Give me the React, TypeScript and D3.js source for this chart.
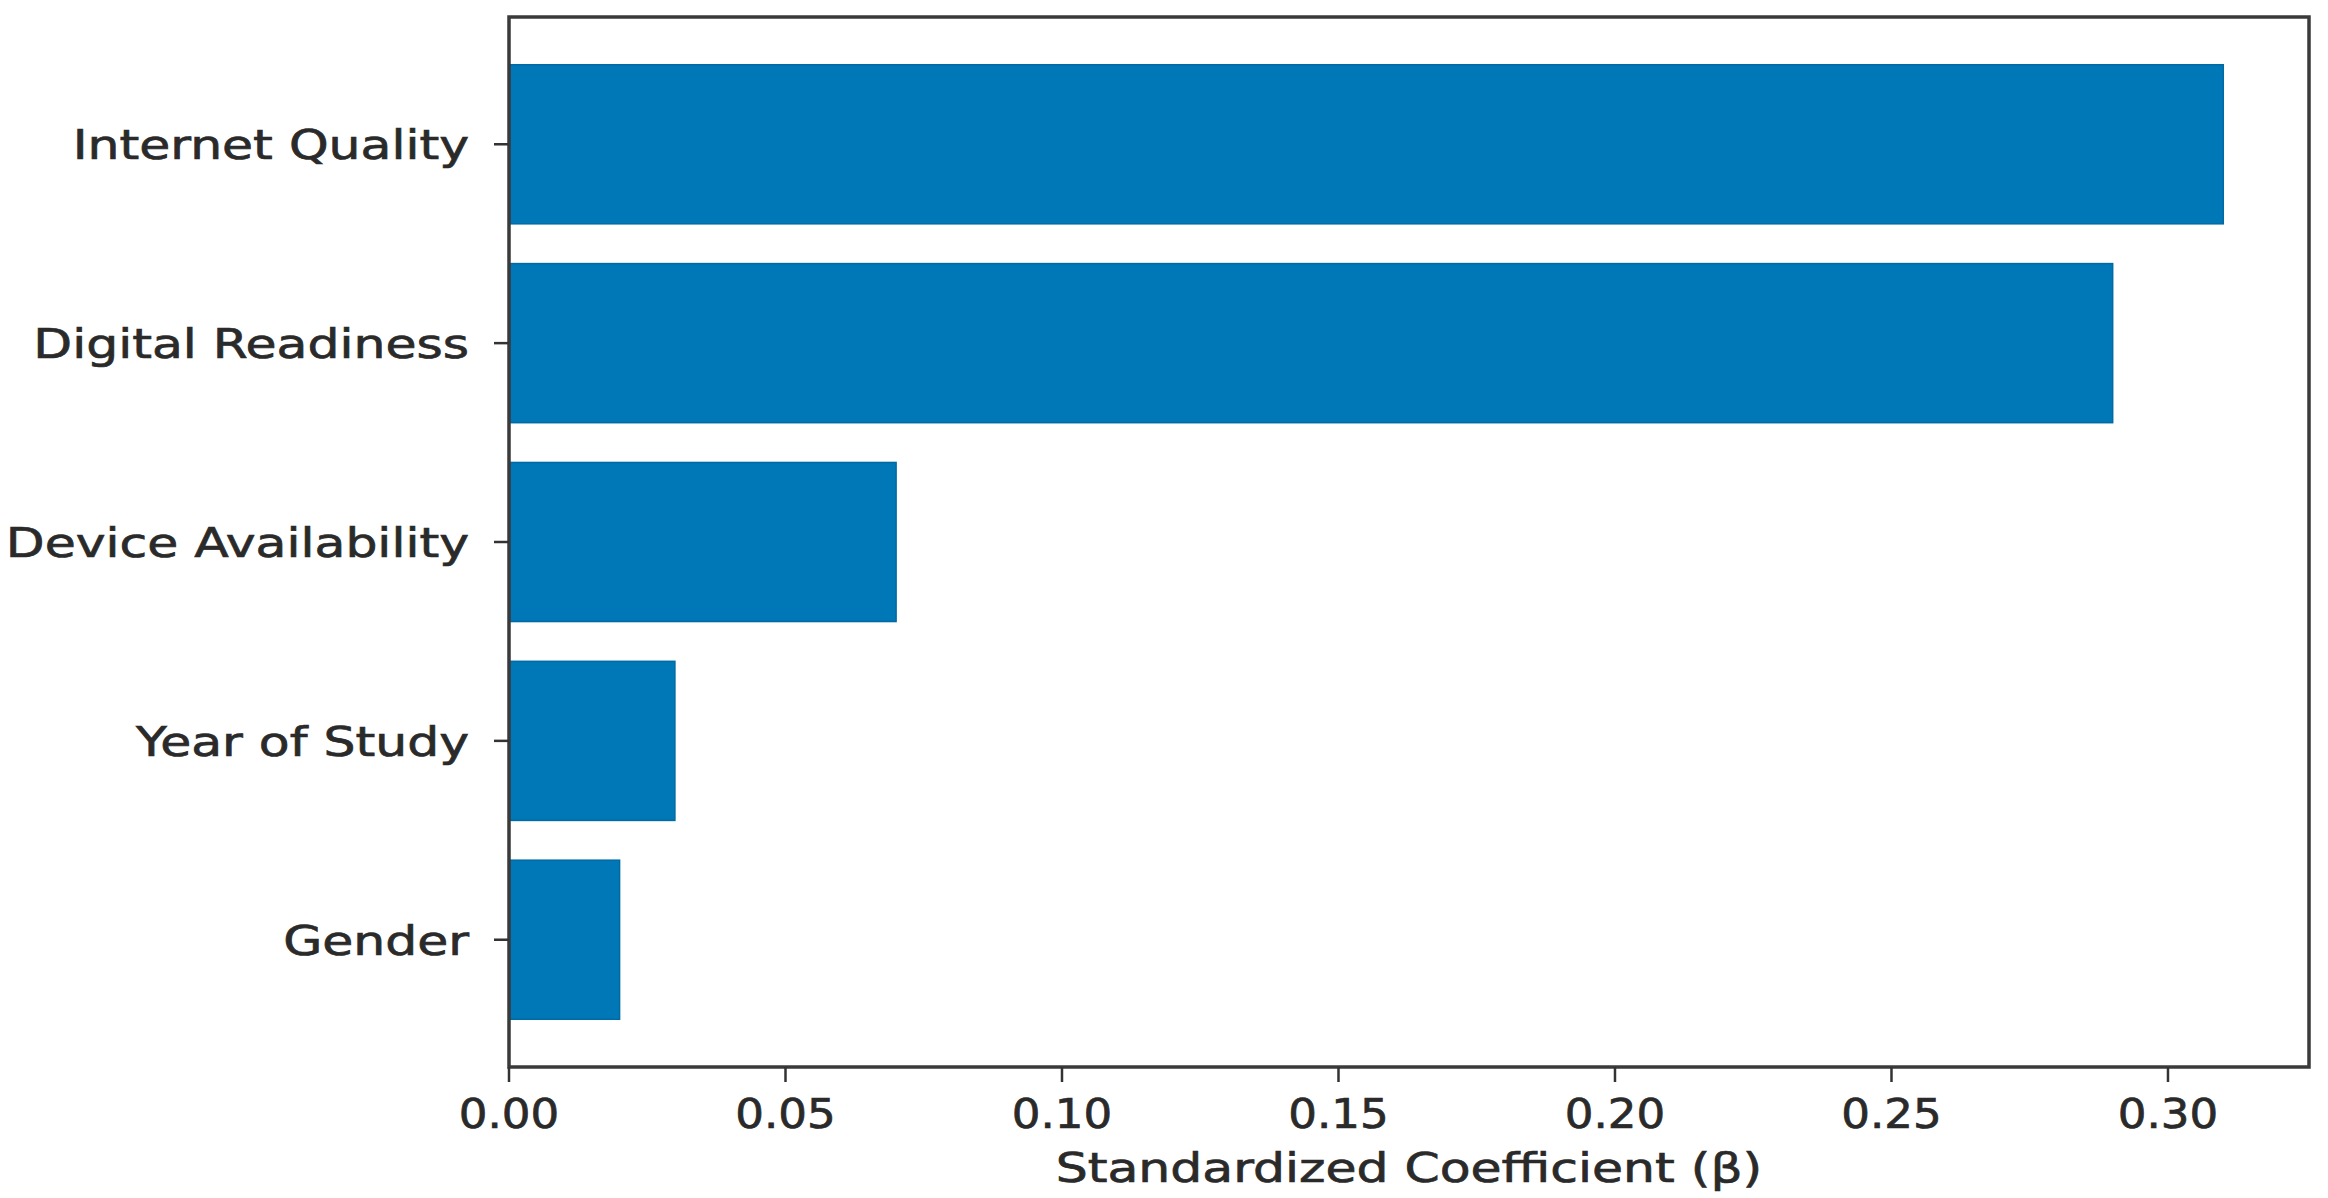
import React from "react";
import * as d3 from "d3";

const categories = ["Gender", "Year of Study", "Device Availability", "Digital Readiness", "Internet Quality"];
const coefficients = [0.02, 0.03, 0.07, 0.29, 0.31];
const xTicks = [0, 0.05, 0.1, 0.15, 0.2, 0.25, 0.3];
const xLabel = "Standardized Coefficient (β)";

const W = 2328;
const H = 1198;
const left = 509;
const right = 2309;
const top = 17;
const bottom = 1067;
const barColor = "#0077b6";
const textColor = "#2a2a2a";
const font = "DejaVu Sans, Verdana, sans-serif";

export default function App() {
  const xMax = d3.max(coefficients)! * 1.05;
  const x = d3.scaleLinear().domain([0, xMax]).range([left, right]);
  // matplotlib-style numeric category positions with 0.8 bar height and 5% margins
  const yLo = -0.4 - 0.24;
  const yHi = categories.length - 1 + 0.4 + 0.24;
  const y = d3.scaleLinear().domain([yLo, yHi]).range([bottom, top]);
  const barH = 0.8;

  const textProps = { fontSize: 41, fill: textColor, stroke: textColor, strokeWidth: 0.7 };

  return (
    <svg
      width={W}
      height={H}
      style={{ position: "absolute", left: 0, top: 0, background: "#fff" }}
      fontFamily={font}
    >
      <rect x={0} y={0} width={W} height={H} fill="#fff" />
      {categories.map((c, i) => (
        <rect
          key={c}
          x={x(0)}
          y={y(i + barH / 2)}
          width={x(coefficients[i]) - x(0)}
          height={y(i - barH / 2) - y(i + barH / 2)}
          fill={barColor}
          stroke="#006aa3"
          strokeWidth={1.5}
        />
      ))}
      {/* frame */}
      <rect x={left} y={top} width={right - left} height={bottom - top} fill="none" stroke="#3a3a3a" strokeWidth={3.5} />
      {/* y ticks & labels */}
      {categories.map((c, i) => (
        <g key={"yt" + c}>
          <line x1={left - 15} x2={left} y1={y(i)} y2={y(i)} stroke="#333" strokeWidth={2.5} />
          <text
            transform={`translate(${left - 40},${y(i) + 15}) scale(1.23,1)`}
            textAnchor="end"
            {...textProps}
          >
            {c}
          </text>
        </g>
      ))}
      {/* x ticks & labels */}
      {xTicks.map((t) => (
        <g key={"xt" + t}>
          <line x1={x(t)} x2={x(t)} y1={bottom} y2={bottom + 15} stroke="#333" strokeWidth={2.5} />
          <text
            transform={`translate(${x(t)},${1128}) scale(1.1,1)`}
            textAnchor="middle"
            {...textProps}
          >
            {d3.format(".2f")(t)}
          </text>
        </g>
      ))}
      <text
        transform={`translate(${(left + right) / 2},${1182}) scale(1.23,1)`}
        textAnchor="middle"
        {...textProps}
      >
        {xLabel}
      </text>
    </svg>
  );
}
